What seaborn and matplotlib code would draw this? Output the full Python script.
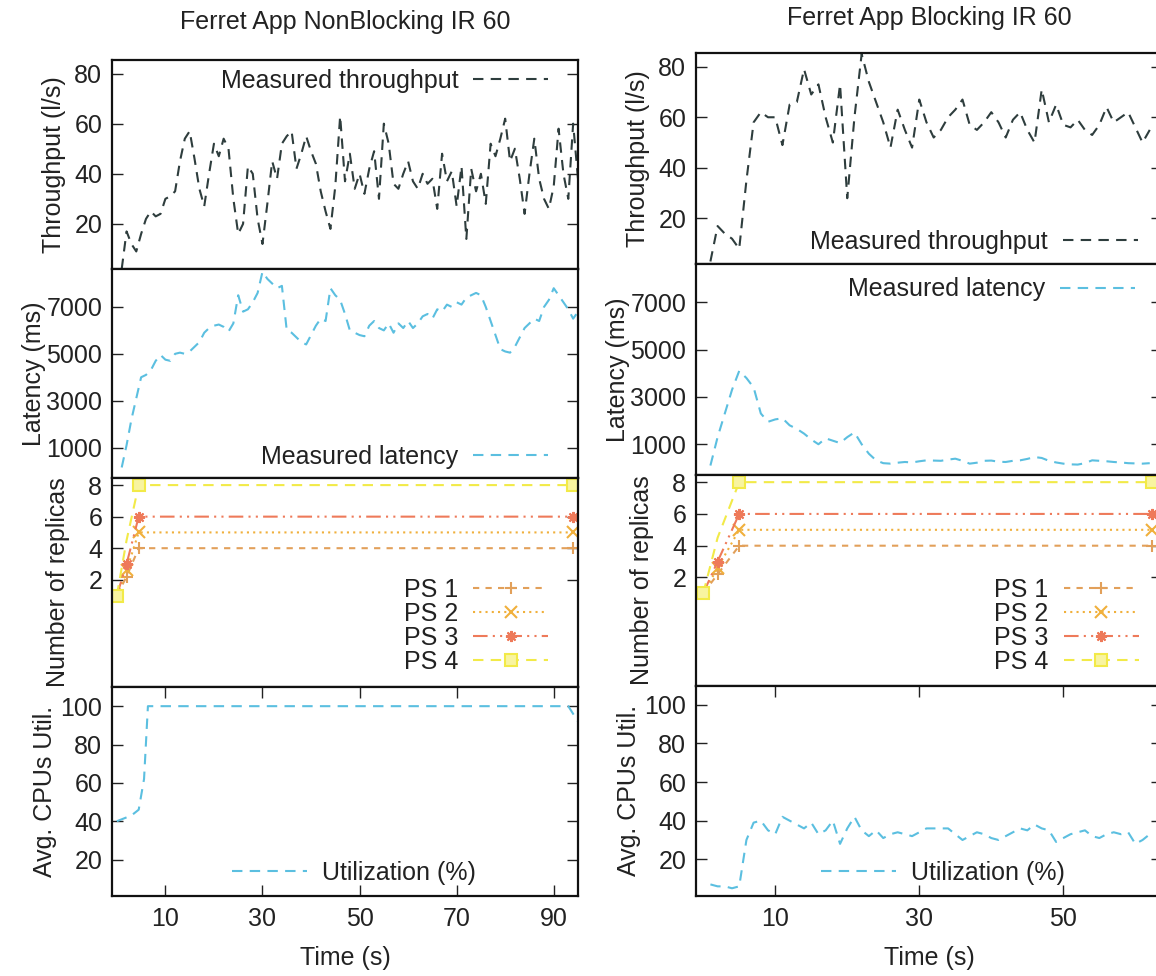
import numpy as np
import matplotlib
matplotlib.use('Agg')
import matplotlib.pyplot as plt
import seaborn as sns

sns.set_theme(style="ticks")
plt.rcParams['font.family'] = ['Liberation Sans', 'DejaVu Sans']

# ---------------- data ----------------
titles = ["Ferret App NonBlocking IR 60", "Ferret App Blocking IR 60"]
x_ticks = [10, 30, 50, 70, 90]

# NonBlocking (left column), one sample per second starting at t=1
nb_throughput = [2, 17, 12, 9, 16, 22, 25, 23, 24, 30, 31, 33, 45, 54, 57, 46, 34, 27, 40, 52,
                 47, 54, 50, 30, 16, 20, 43, 40, 22, 12, 28, 45, 38, 52, 55, 57, 42, 48, 55, 49,
                 44, 33, 25, 18, 35, 63, 37, 48, 34, 40, 32, 42, 49, 30, 60, 52, 36, 34, 40, 45,
                 37, 34, 40, 36, 38, 26, 48, 37, 41, 27, 43, 14, 42, 33, 40, 28, 52, 47, 54, 62,
                 45, 50, 38, 24, 40, 54, 38, 30, 26, 35, 58, 40, 30, 60, 38, 18]
nb_latency = [150, 1100, 2200, 3100, 4000, 4100, 4300, 4700, 4950, 4750, 4700, 5000, 5050, 5000,
              5100, 5300, 5500, 5900, 6100, 6200, 6250, 6150, 5950, 6300, 7500, 6800, 6900, 7200,
              7600, 8500, 8200, 8000, 7800, 7900, 6000, 5900, 5700, 5500, 5400, 5800, 6200, 6500,
              6400, 7800, 7500, 7300, 6700, 6000, 5900, 5800, 5750, 6200, 6400, 6100, 6000, 6300,
              5900, 6300, 6100, 6400, 6100, 6300, 6600, 6700, 6500, 6900, 6800, 7100, 7000, 7200,
              7100, 7400, 7500, 7600, 7500, 7000, 6400, 5800, 5200, 5100, 5050, 5300, 5700, 6100,
              6300, 6500, 6400, 7000, 7300, 7800, 7500, 7200, 6900, 6500, 6800, 7100]
nb_cpu_time = [0, 1, 2, 3, 4.5, 5.6, 6.4, 93, 95]
nb_cpu = [40, 41, 42, 43, 46, 62, 100, 100, 92]
nb_ps_time = [0, 2, 4.5, 94]

# Blocking (right column), one sample per second starting at t=1
bl_throughput = [3, 17, 14, 12, 8, 35, 58, 62, 60, 60, 49, 65, 66, 79, 69, 73, 60, 50, 73, 28,
                 60, 85, 74, 66, 58, 48, 63, 55, 48, 67, 58, 52, 55, 60, 63, 67, 57, 55, 58, 62,
                 58, 52, 59, 62, 55, 50, 71, 58, 65, 57, 56, 59, 55, 53, 57, 64, 58, 60, 62, 56,
                 50, 55]
bl_latency = [100, 1300, 2300, 3300, 4100, 3800, 3400, 2300, 1950, 2050, 2100, 1800, 1650, 1450,
              1200, 1000, 1250, 1150, 1050, 1300, 1500, 1000, 600, 320, 200, 180, 220, 250, 230,
              280, 320, 310, 300, 350, 390, 300, 180, 220, 300, 310, 260, 250, 300, 320, 380, 460,
              420, 300, 230, 180, 150, 140, 200, 320, 300, 280, 250, 230, 200, 190, 180, 200]
bl_cpu = [7, 6, 6, 5, 6, 30, 39, 40, 35, 33, 42, 40, 38, 36, 39, 33, 35, 40, 28, 36, 42, 35, 32,
          35, 31, 33, 34, 33, 32, 34, 36, 36, 36, 36, 33, 30, 32, 34, 33, 31, 30, 32, 34, 36, 35,
          38, 36, 35, 29, 31, 33, 34, 35, 32, 31, 33, 34, 33, 34, 28, 30, 33]
bl_ps_time = [0, 2, 5, 62.3]

ps_labels = ["PS 1", "PS 2", "PS 3", "PS 4"]
ps_values = [[1, 2.2, 4, 4], [1, 2.6, 5, 5], [1, 3, 6, 6], [1, 4.5, 8, 8]]

# ---------------- styling ----------------
W, H = 1156, 976
FS = 18       # labels, legends, titles
FS_TICK = 18
TXT = '#222222'
C_THR = '#2e3d3d'
C_BLUE = '#5bbfe0'
PS_COLORS = ['#e2a05a', '#f0b03c', '#ee7a5a', '#f2ea48']
PS_LS = [(0, (3, 3)), (0, (1, 2)), (0, (7, 2.5, 1, 2.5, 1, 2.5)), (0, (5, 3.5))]
PS_MARK = ['+', 'x', (8, 2, 0), 's']
PS_EVERY = [None, None, None, [0, 2, 3]]
DASH = (0, (5, 3.5))

fig = plt.figure(figsize=(W / 100, H / 100), dpi=100, facecolor='white')


def add_ax(x0, top, w, h):
    return fig.add_axes([x0 / W, 1 - (top + h) / H, w / W, h / H])


def style(ax, bottom_panel, xmax):
    for s in ax.spines.values():
        s.set_color('#111111')
        s.set_linewidth(1.6)
    ax.tick_params(axis='y', direction='in', left=True, right=True, length=8, width=1,
                   colors=TXT, labelsize=FS_TICK, pad=7)
    if bottom_panel:
        ax.tick_params(axis='x', direction='in', bottom=True, top=True, length=8, width=1,
                       colors=TXT, labelsize=FS_TICK, pad=8)
        ax.set_xticks(x_ticks)
    else:
        ax.tick_params(axis='x', bottom=False, top=False, labelbottom=False)
    # limits after ticks, so out-of-range ticks don't stretch the view
    ax.set_xlim(-1, xmax)
    ax.grid(False)
    ax.set_facecolor('white')


def leg(ax, loc, anchor, markerfirst=True):
    lg = ax.legend(loc=loc, bbox_to_anchor=anchor, frameon=False, fontsize=FS,
                   markerfirst=markerfirst, handlelength=3.0, handletextpad=0.6,
                   borderpad=0, borderaxespad=0, labelspacing=0.0)
    for t in lg.get_texts():
        t.set_color(TXT)


columns = [
    dict(x0=112, w=466, tops=[60, 269, 478, 687], hs=[209, 209, 209, 209], xmax=95,
         thr=nb_throughput, lat=nb_latency, cpu_t=nb_cpu_time, cpu=nb_cpu, ps_t=nb_ps_time,
         thr_leg=('center right', (0.936, 0.90)), lat_leg=('center right', (0.936, 0.10)),
         ps_leg=(0.936, 0.292), cpu_leg=(0.52, 0.11), title_y=22),
    dict(x0=696, w=466, tops=[53, 264, 475, 685.5], hs=[211, 211, 210.5, 210.5], xmax=63.7,
         thr=bl_throughput, lat=bl_latency, cpu_t=list(range(1, len(bl_cpu) + 1)), cpu=bl_cpu,
         ps_t=bl_ps_time,
         thr_leg=('center right', (0.948, 0.104)), lat_leg=('center right', (0.942, 0.88)),
         ps_leg=(0.95, 0.283), cpu_leg=(0.53, 0.109), title_y=18),
]

label_x = [-0.124, -0.167, -0.115, -0.144]

for ci, col in enumerate(columns):
    axes = [add_ax(col['x0'], t, col['w'], h) for t, h in zip(col['tops'], col['hs'])]
    a_thr, a_lat, a_ps, a_cpu = axes

    t_thr = list(range(1, len(col['thr']) + 1))
    sns.lineplot(x=t_thr, y=col['thr'], ax=a_thr, color=C_THR, lw=1.5, linestyle=DASH,
                 label='Measured throughput', errorbar=None)
    a_thr.set_ylim(2, 85.4)
    a_thr.set_yticks([20, 40, 60, 80])
    a_thr.set_ylabel('Throughput (l/s)')

    t_lat = list(range(1, len(col['lat']) + 1))
    sns.lineplot(x=t_lat, y=col['lat'], ax=a_lat, color=C_BLUE, lw=1.5, linestyle=DASH,
                 label='Measured latency', errorbar=None)
    a_lat.set_ylim(-300, 8620)
    a_lat.set_yticks([1000, 3000, 5000, 7000])
    a_lat.set_ylabel('Latency (ms)')

    for lab, vals, c, ls, mk, ev in zip(ps_labels, ps_values, PS_COLORS, PS_LS, PS_MARK,
                                        PS_EVERY):
        mfc = '#f8f4a0' if mk == 's' else c
        sns.lineplot(x=col['ps_t'], y=vals, ax=a_ps, color=c, lw=1.5, linestyle=ls,
                     marker=mk, markersize=8, mec=c, mew=1.5, mfc=mfc, markevery=ev,
                     label=lab, errorbar=None, sort=False)
    a_ps.set_ylim(-4.8, 8.45)
    a_ps.set_yticks([2, 4, 6, 8])
    a_ps.set_ylabel('Number of replicas')

    sns.lineplot(x=col['cpu_t'], y=col['cpu'], ax=a_cpu, color=C_BLUE, lw=1.5, linestyle=DASH,
                 label='Utilization (%)', errorbar=None)
    a_cpu.set_ylim(1, 110)
    a_cpu.set_yticks([20, 40, 60, 80, 100])
    a_cpu.set_ylabel('Avg. CPUs Util.')
    a_cpu.set_xlabel('Time (s)', fontsize=FS, color=TXT, va='center')
    a_cpu.xaxis.set_label_coords(0.5, -(958 - 896) / col['hs'][3])

    for i, ax in enumerate(axes):
        style(ax, i == 3, col['xmax'])
        if i < 3:
            ax.set_xlabel('')
        ax.yaxis.label.set_fontsize(FS)
        ax.yaxis.label.set_color(TXT)
        ax.yaxis.label.set_va('center')
        ax.yaxis.set_label_coords(label_x[i], 0.5)

    leg(a_thr, col['thr_leg'][0], col['thr_leg'][1], markerfirst=False)
    leg(a_lat, col['lat_leg'][0], col['lat_leg'][1], markerfirst=False)
    leg(a_ps, 'center right', col['ps_leg'], markerfirst=False)
    leg(a_cpu, 'center', col['cpu_leg'], markerfirst=True)

    fig.text((col['x0'] + col['w'] / 2) / W, 1 - col['title_y'] / H, titles[ci],
             ha='center', va='center', fontsize=FS, color=TXT)

fig.savefig('out.png', dpi=100, facecolor='white')
